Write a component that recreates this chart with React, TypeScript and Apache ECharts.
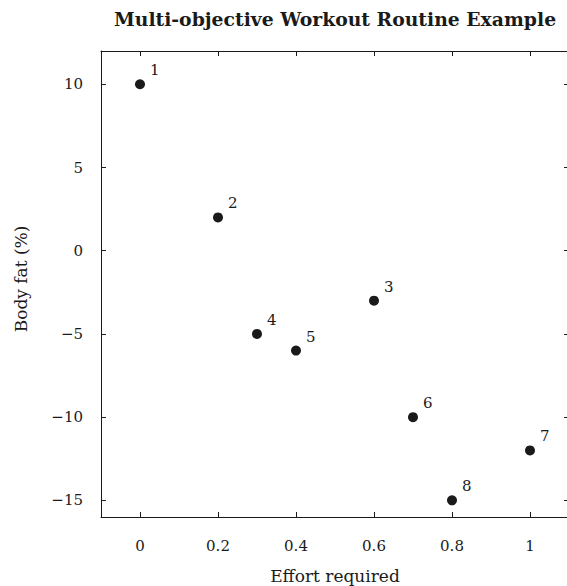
import React, { useEffect, useRef } from "react";
import * as echarts from "echarts";

const pointIds = ["1", "2", "3", "4", "5", "6", "7", "8"];
const effort = [0, 0.2, 0.6, 0.3, 0.4, 0.7, 1, 0.8];
const bodyFat = [10, 2, -3, -5, -6, -10, -12, -15];
const xTicks = [0, 0.2, 0.4, 0.6, 0.8, 1];
const yTicks = [-15, -10, -5, 0, 5, 10];

const FONT = "'DejaVu Serif', 'Liberation Serif', serif";
const INK = "#1a1a1a";

export default function App() {
  const ref = useRef<HTMLDivElement>(null);
  useEffect(() => {
    document.body.style.margin = "0";
    const chart = echarts.init(ref.current!, null, { renderer: "svg" });
    const fmt = (v: number) => (v < 0 ? "\u2212" + Math.abs(v) : String(v));
    const axisLine = { show: true, onZero: false, lineStyle: { color: INK, width: 1 } };
    chart.setOption({
      animation: false,
      backgroundColor: "#fff",
      title: {
        text: "Multi-objective Workout Routine Example",
        left: 330,
        top: 4,
        textAlign: "center",
        textStyle: { fontFamily: FONT, fontWeight: "bold", fontSize: 18.8, color: INK },
      },
      grid: { left: 101, top: 51, width: 468, height: 466, outerBoundsMode: "none", containLabel: false },
      xAxis: [
        {
          type: "value",
          min: -0.1,
          max: 1.1,
          position: "bottom",
          name: "Effort required",
          nameLocation: "middle",
          nameGap: 50,
          nameTextStyle: { fontFamily: FONT, fontSize: 17, color: INK },
          axisLine,
          splitLine: { show: false },
          axisTick: { show: true, inside: true, length: 5, customValues: xTicks, lineStyle: { color: INK } },
          axisLabel: { customValues: xTicks, formatter: fmt, margin: 21, fontFamily: FONT, fontSize: 15, color: INK },
        },
        {
          type: "value",
          min: -0.1,
          max: 1.1,
          position: "top",
          axisLine,
          splitLine: { show: false },
          axisTick: { show: true, inside: true, length: 5, customValues: xTicks, lineStyle: { color: INK } },
          axisLabel: { show: false, customValues: xTicks },
        },
      ],
      yAxis: [
        {
          type: "value",
          min: -16,
          max: 12,
          position: "left",
          name: "Body fat (%)",
          nameLocation: "middle",
          nameGap: 72,
          nameTextStyle: { fontFamily: FONT, fontSize: 17, color: INK, padding: [0, 0, 0, 10] },
          axisLine,
          splitLine: { show: false },
          axisTick: { show: true, inside: true, length: 5, customValues: yTicks, lineStyle: { color: INK } },
          axisLabel: { customValues: yTicks, formatter: fmt, margin: 18, fontFamily: FONT, fontSize: 15, color: INK },
        },
        {
          type: "value",
          min: -16,
          max: 12,
          position: "right",
          axisLine,
          splitLine: { show: false },
          axisTick: { show: true, inside: true, length: 5, customValues: yTicks, lineStyle: { color: INK } },
          axisLabel: { show: false, customValues: yTicks },
        },
      ],
      series: [
        {
          type: "scatter",
          symbol: "circle",
          symbolSize: 10,
          itemStyle: { color: INK, opacity: 1 },
          data: effort.map((x, i) => ({ value: [x, bodyFat[i]], name: pointIds[i] })),
          label: {
            show: true,
            position: "right",
            distance: 5,
            offset: [0, -14],
            formatter: (p: any) => p.name,
            fontFamily: FONT,
            fontSize: 15,
            color: INK,
          },
        },
      ],
    });
    return () => chart.dispose();
  }, []);
  return <div ref={ref} style={{ width: 567, height: 586 }} />;
}
